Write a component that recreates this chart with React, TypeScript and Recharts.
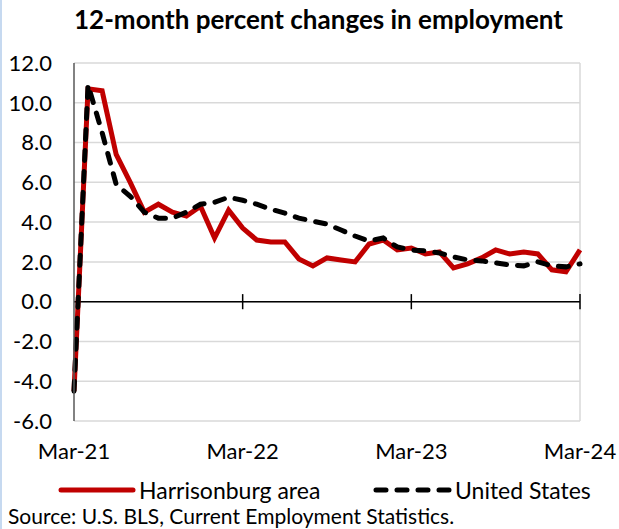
import { CartesianGrid, Line, LineChart, ReferenceLine, XAxis, YAxis } from "recharts";

const months = [
  "Mar-21", "Apr-21", "May-21", "Jun-21", "Jul-21", "Aug-21", "Sep-21", "Oct-21", "Nov-21", "Dec-21",
  "Jan-22", "Feb-22", "Mar-22", "Apr-22", "May-22", "Jun-22", "Jul-22", "Aug-22", "Sep-22", "Oct-22",
  "Nov-22", "Dec-22", "Jan-23", "Feb-23", "Mar-23", "Apr-23", "May-23", "Jun-23", "Jul-23", "Aug-23",
  "Sep-23", "Oct-23", "Nov-23", "Dec-23", "Jan-24", "Feb-24", "Mar-24",
];

const harrisonburg = [
  -4.5, 10.7, 10.6, 7.4, 6.0, 4.5, 4.9, 4.5, 4.3, 4.8,
  3.2, 4.6, 3.7, 3.1, 3.0, 3.0, 2.15, 1.8, 2.2, 2.1,
  2.0, 2.9, 3.1, 2.6, 2.7, 2.4, 2.5, 1.7, 1.9, 2.2,
  2.6, 2.4, 2.5, 2.4, 1.6, 1.5, 2.6,
];

const unitedStates = [
  -4.5, 10.9, 8.5, 5.9, 5.3, 4.5, 4.2, 4.2, 4.5, 4.9,
  5.0, 5.25, 5.1, 4.9, 4.65, 4.45, 4.2, 4.05, 3.9, 3.6,
  3.3, 3.05, 3.2, 2.75, 2.6, 2.55, 2.45, 2.25, 2.1, 2.05,
  1.95, 1.85, 1.8, 2.0, 1.8, 1.75, 1.9,
];

const yTicks = [-6, -4, -2, 0, 2, 4, 6, 8, 10, 12];
const xTicks = ["Mar-21", "Mar-22", "Mar-23", "Mar-24"];

const data = months.map((m, i) => ({ month: m, harrisonburg: harrisonburg[i], us: unitedStates[i] }));

const FONT = "Lato, 'Open Sans', sans-serif";
const RED = "#c00000";

export default function App() {
  return (
    <div
      style={{
        position: "absolute",
        left: 0,
        top: 0,
        width: 619,
        height: 529,
        background: "#fff",
        fontFamily: FONT,
        color: "#000",
        overflow: "hidden",
      }}
    >
      <style>{"body{margin:0}"}</style>
      <div style={{ position: "absolute", left: 0, top: 0, width: 2, height: 529, background: "#c6d9f0" }} />
      <div
        style={{
          position: "absolute",
          left: 0,
          width: 619,
          top: 3,
          textAlign: "center",
          fontWeight: 700,
          fontSize: 26,
          paddingLeft: 18,
          boxSizing: "border-box",
        }}
      >
        12-month percent changes in employment
      </div>
      <div style={{ position: "absolute", left: 0, top: 0 }}>
        <LineChart width={619} height={480} data={data} margin={{ top: 63, right: 39, left: 0, bottom: 0 }}>
          <CartesianGrid vertical={false} stroke="#d9d9d9" strokeWidth={1.5} />
          <XAxis
            dataKey="month"
            ticks={xTicks}
            interval={0}
            axisLine={false}
            tickLine={false}
            tickSize={0}
            tickMargin={22}
            height={59}
            tick={{ fill: "#000", fontSize: 22, fontFamily: FONT }}
          />
          <YAxis
            domain={[-6, 12]}
            ticks={yTicks}
            interval={0}
            width={74}
            tickFormatter={(v: number) => v.toFixed(1)}
            axisLine={{ stroke: "#595959", strokeWidth: 1.5 }}
            tickLine={false}
            tickSize={0}
            tickMargin={22}
            tick={{ fill: "#000", fontSize: 22, fontFamily: FONT }}
          />
          <ReferenceLine x="Mar-24" stroke="#d9d9d9" strokeWidth={1.5} />
          <ReferenceLine y={0} stroke="#000" strokeWidth={1.5} />
          {xTicks.slice(1).map((t) => (
            <ReferenceLine
              key={t}
              segment={[
                { x: t, y: -0.38 },
                { x: t, y: 0.38 },
              ]}
              stroke="#000"
              strokeWidth={1.5}
            />
          ))}
          <Line
            type="linear"
            dataKey="harrisonburg"
            stroke={RED}
            strokeWidth={5}
            dot={false}
            isAnimationActive={false}
          />
          <Line
            type="linear"
            dataKey="us"
            stroke="#000"
            strokeWidth={5}
            strokeDasharray="10 11"
            strokeLinecap="round"
            dot={false}
            isAnimationActive={false}
          />
        </LineChart>
      </div>
      <div style={{ position: "absolute", left: 0, top: 476, width: 619, height: 28, fontSize: 23 }}>
        <svg style={{ position: "absolute", left: 58, top: 9 }} width={78} height={10}>
          <line x1={3} y1={5} x2={75} y2={5} stroke={RED} strokeWidth={5} strokeLinecap="round" />
        </svg>
        <span style={{ position: "absolute", left: 139, top: 0 }}>Harrisonburg area</span>
        <svg style={{ position: "absolute", left: 373, top: 9 }} width={80} height={10}>
          <line
            x1={3}
            y1={5}
            x2={77}
            y2={5}
            stroke="#000"
            strokeWidth={5}
            strokeDasharray="10 11"
            strokeLinecap="round"
          />
        </svg>
        <span style={{ position: "absolute", left: 455, top: 0 }}>United States</span>
      </div>
      <div style={{ position: "absolute", left: 8, top: 503, fontSize: 21 }}>
        Source: U.S. BLS, Current Employment Statistics.
      </div>
    </div>
  );
}
